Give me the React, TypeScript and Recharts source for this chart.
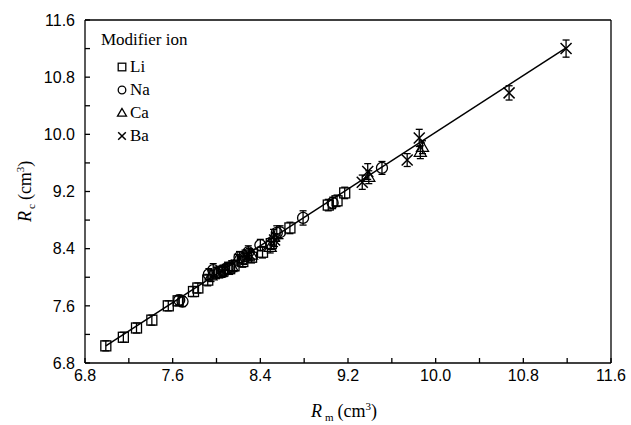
import React from "react";
import {
  ScatterChart,
  Scatter,
  XAxis,
  YAxis,
  ErrorBar,
  ReferenceLine,
} from "recharts";

// ── Data ─────────────────────────────────────────────────────

const liX = [6.99, 7.15, 7.27, 7.41, 7.56, 7.65, 7.79, 7.83, 7.92, 8.03, 8.12, 8.16, 8.24, 8.32, 8.42, 8.5, 8.67, 9.02, 9.1, 9.17];
const liY = [7.04, 7.16, 7.29, 7.4, 7.6, 7.67, 7.8, 7.85, 7.96, 8.07, 8.12, 8.16, 8.22, 8.28, 8.35, 8.47, 8.69, 9.01, 9.07, 9.18];
const liE = [0.07, 0.07, 0.07, 0.07, 0.07, 0.07, 0.07, 0.07, 0.08, 0.08, 0.08, 0.08, 0.08, 0.08, 0.08, 0.08, 0.08, 0.08, 0.08, 0.08];

const naX = [7.66, 7.69, 7.93, 7.97, 8.06, 8.1, 8.21, 8.25, 8.29, 8.4, 8.55, 8.58, 8.79, 9.06, 9.51];
const naY = [7.68, 7.66, 8.04, 8.1, 8.09, 8.13, 8.28, 8.26, 8.35, 8.45, 8.62, 8.63, 8.83, 9.04, 9.53];
const naE = [0.07, 0.07, 0.08, 0.09, 0.08, 0.08, 0.08, 0.08, 0.09, 0.08, 0.1, 0.09, 0.1, 0.08, 0.09];

const caX = [7.95, 8.0, 8.08, 8.14, 8.19, 8.26, 8.32, 8.49, 8.52, 9.39, 9.86, 9.88];
const caY = [8.02, 8.06, 8.1, 8.15, 8.24, 8.3, 8.31, 8.42, 8.56, 9.4, 9.75, 9.82];
const caE = [0.08, 0.08, 0.08, 0.08, 0.08, 0.08, 0.08, 0.08, 0.11, 0.09, 0.09, 0.09];

const baX = [8.05, 8.3, 8.53, 9.33, 9.38, 9.74, 9.85, 10.67, 11.19];
const baY = [8.08, 8.32, 8.52, 9.33, 9.48, 9.64, 9.95, 10.58, 11.2];
const baE = [0.08, 0.08, 0.09, 0.1, 0.11, 0.09, 0.12, 0.1, 0.12];

const fitX = [6.99, 11.19];
const fitY = [7.04, 11.21];

const axisTicks = [6.8, 7.2, 7.6, 8.0, 8.4, 8.8, 9.2, 9.6, 10.0, 10.4, 10.8, 11.2, 11.6];
const tickLabels = ["6.8", "", "7.6", "", "8.4", "", "9.2", "", "10.0", "", "10.8", "", "11.6"];

const seriesNames = ["Li", "Na", "Ca", "Ba"];

const toPoints = (xs: number[], ys: number[], es: number[]) =>
  xs.map((x, i) => ({ x, y: ys[i], e: es[i] }));

// ── Marker shapes ────────────────────────────────────────────

const STROKE = "#000";

function SquareMark({ cx, cy, s = 5 }: any) {
  return <rect x={cx - s} y={cy - s} width={2 * s} height={2 * s} fill="none" stroke={STROKE} strokeWidth={1.3} />;
}

function CircleMark({ cx, cy, s = 5.5 }: any) {
  return <circle cx={cx} cy={cy} r={s} fill="none" stroke={STROKE} strokeWidth={1.3} />;
}

function TriangleMark({ cx, cy, s = 6 }: any) {
  const h = s * 1.7;
  const pts = `${cx},${cy - h * 0.6} ${cx - s},${cy + h * 0.4} ${cx + s},${cy + h * 0.4}`;
  return <polygon points={pts} fill="none" stroke={STROKE} strokeWidth={1.3} />;
}

function CrossMark({ cx, cy, s = 5.5 }: any) {
  return (
    <path
      d={`M${cx - s},${cy - s}L${cx + s},${cy + s}M${cx - s},${cy + s}L${cx + s},${cy - s}`}
      stroke={STROKE}
      strokeWidth={1.5}
      fill="none"
    />
  );
}

const marks = [SquareMark, CircleMark, TriangleMark, CrossMark];

// ── Legend & titles ──────────────────────────────────────────

const serif = "Liberation Serif, Times New Roman, serif";

function LegendBox() {
  return (
    <svg width={120} height={130} style={{ position: "absolute", left: 101, top: 28, overflow: "visible" }}>
      <text x={0} y={17} style={{ fontFamily: serif, fontSize: 17 }} fill="#000">
        Modifier ion
      </text>
      {seriesNames.map((name, i) => {
        const Mark = marks[i];
        const cy = 39 + i * 23;
        return (
          <g key={name}>
            <Mark cx={21} cy={cy} s={i === 2 ? 4.5 : 3.8} />
            <text x={29} y={cy + 5} style={{ fontFamily: serif, fontSize: 17 }} fill="#000">
              {name}
            </text>
          </g>
        );
      })}
    </svg>
  );
}

function XTitle() {
  return (
    <text x={311} y={417} style={{ fontFamily: serif, fontSize: 18 }} fill="#000">
      <tspan fontStyle="italic">R</tspan>
      <tspan fontSize={11} dx={3} dy={4}>m</tspan>
      <tspan dx={4} dy={-4}>(cm</tspan>
      <tspan fontSize={11} dy={-7}>3</tspan>
      <tspan dy={7}>)</tspan>
    </text>
  );
}

function YTitle() {
  return (
    <text x={0} y={0} transform="translate(31,222) rotate(-90)" style={{ fontFamily: serif, fontSize: 18 }} fill="#000">
      <tspan fontStyle="italic">R</tspan>
      <tspan fontSize={11} dx={2} dy={4}>c</tspan>
      <tspan dx={4} dy={-4}>(cm</tspan>
      <tspan fontSize={11} dy={-7}>3</tspan>
      <tspan dy={7}>)</tspan>
    </text>
  );
}

// ── Chart ────────────────────────────────────────────────────

export default function App() {
  const tickFmt = (v: number) => {
    const i = axisTicks.findIndex((t) => Math.abs(t - v) < 1e-6);
    return i >= 0 ? tickLabels[i] : "";
  };
  const tickStyle = { fill: "#000", fontSize: 16, fontFamily: "Liberation Sans, Arial, sans-serif" };
  const axisLine = { stroke: "#000", strokeWidth: 1.3 };

  const series = [
    toPoints(liX, liY, liE),
    toPoints(naX, naY, naE),
    toPoints(caX, caY, caE),
    toPoints(baX, baY, baE),
  ];

  return (
    <div style={{ position: "relative", width: 631, height: 425, background: "#fff" }}>
      <style>{`body{margin:0}`}</style>
      <ScatterChart width={631} height={425} margin={{ top: 20, right: 20, bottom: 12, left: 25 }}>
        <XAxis
          type="number"
          dataKey="x"
          domain={[6.8, 11.6]}
          ticks={axisTicks}
          interval={0}
          tickFormatter={tickFmt}
          tick={tickStyle}
          tickSize={-5}
          tickMargin={12}
          tickLine={axisLine}
          axisLine={axisLine}
          height={50}
          allowDataOverflow
          label={<XTitle />}
        />
        <YAxis
          type="number"
          dataKey="y"
          domain={[6.8, 11.6]}
          ticks={axisTicks}
          interval={0}
          tickFormatter={tickFmt}
          tick={tickStyle}
          tickSize={-5}
          tickMargin={15}
          tickLine={axisLine}
          axisLine={axisLine}
          width={60}
          allowDataOverflow
          label={<YTitle />}
        />
        <ReferenceLine x={11.6} stroke="#000" strokeWidth={1.3} />
        <ReferenceLine y={11.6} stroke="#000" strokeWidth={1.3} />
        <ReferenceLine
          segment={[
            { x: fitX[0], y: fitY[0] },
            { x: fitX[1], y: fitY[1] },
          ]}
          stroke="#000"
          strokeWidth={1.5}
        />
        {series.map((data, i) => (
          <Scatter
            key={seriesNames[i]}
            name={seriesNames[i]}
            data={data}
            shape={marks[i]}
            isAnimationActive={false}
          >
            <ErrorBar dataKey="e" direction="y" width={3.5} stroke="#000" strokeWidth={1.3} />
          </Scatter>
        ))}
      </ScatterChart>
      <LegendBox />
    </div>
  );
}
